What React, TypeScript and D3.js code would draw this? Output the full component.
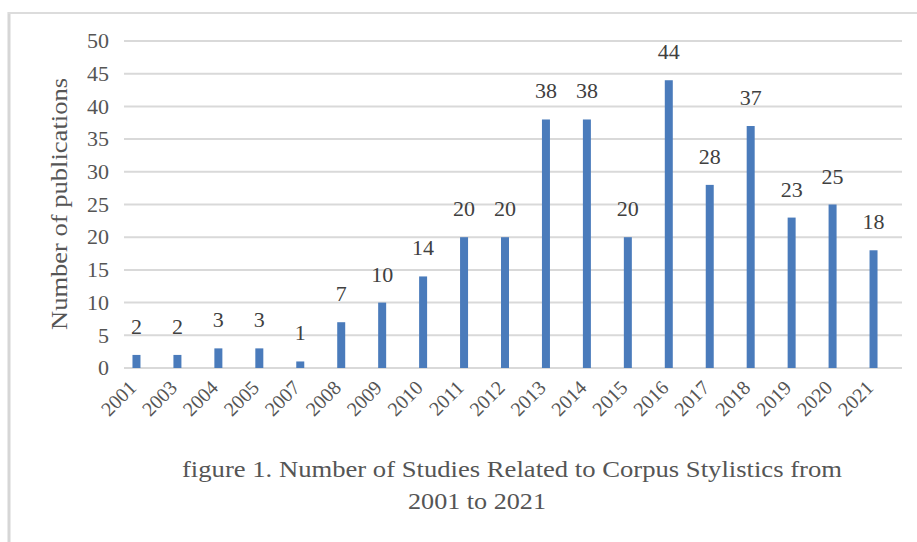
import React from "react";
import * as d3 from "d3";

const years = ["2001","2003","2004","2005","2007","2008","2009","2010","2011","2012","2013","2014","2015","2016","2017","2018","2019","2020","2021"];
const publications = [2,2,3,3,1,7,10,14,20,20,38,38,20,44,28,37,23,25,18];
const yTicks = [0,5,10,15,20,25,30,35,40,45,50];
const titleLine1 = "figure 1. Number of Studies Related to Corpus Stylistics from";
const titleLine2 = "2001 to 2021";
const yAxisTitle = "Number of publications";

export default function App() {
  const W = 917, H = 542;
  const left = 124, right = 902, top = 41, bottom = 368;
  const x = d3.scaleBand<string>().domain(years).range([left, right]).padding(0);
  const sub = d3.scaleBand<string>().domain(["a","b","c"]).range([0, x.bandwidth()]).paddingOuter(1.06).paddingInner(0);
  const y = d3.scaleLinear().domain([0, 50]).range([bottom, top]);
  const font = "Liberation Serif";
  const textColor = "#555555";
  const barColor = "#4a7bbb";
  const ts = { fontFamily: font };
  return (
    <svg width={W} height={H} style={{ position: "absolute", left: 0, top: 0, fontFamily: font }}>
      <rect x={0} y={0} width={W} height={H} fill="#fff" />
      <line x1={9} x2={9} y1={12} y2={H} stroke="#d6d6d6" strokeWidth={3} />
      <line x1={8} x2={W} y1={13} y2={13} stroke="#dcdcdc" strokeWidth={2} />
      {yTicks.map(t => (
        <g key={t}>
          <line x1={left} x2={right} y1={y(t)} y2={y(t)} stroke="#d9d9d9" strokeWidth={2} />
          <text style={ts} x={109} y={y(t)} dy="0.33em" textAnchor="end" fontSize={22} fill={textColor}>{t}</text>
        </g>
      ))}
      {years.map((yr, i) => {
        const bx = (x(yr) as number) + (sub("a") as number);
        const bw = sub.bandwidth();
        const cx = bx + bw / 2;
        return (
          <g key={yr}>
            <rect x={bx} y={y(publications[i])} width={bw} height={bottom - y(publications[i])} fill={barColor} />
            <text style={ts} x={cx} y={y(publications[i]) - 21} textAnchor="middle" fontSize={22} fill="#404040">{publications[i]}</text>
            <text style={ts} transform={`translate(${cx + 1},${389}) rotate(-45)`} textAnchor="end" fontSize={20} fill={textColor}>{yr}</text>
          </g>
        );
      })}
      <text style={ts} transform={`translate(67,${204}) rotate(-90)`} textAnchor="middle" fontSize={24} fill={textColor} textLength={252} lengthAdjust="spacingAndGlyphs">{yAxisTitle}</text>
      <text style={ts} x={182} y={477} fontSize={23} fill={textColor} textLength={660} lengthAdjust="spacingAndGlyphs">{titleLine1}</text>
      <text style={ts} x={408} y={509} fontSize={23} fill={textColor} textLength={138} lengthAdjust="spacingAndGlyphs">{titleLine2}</text>
    </svg>
  );
}
